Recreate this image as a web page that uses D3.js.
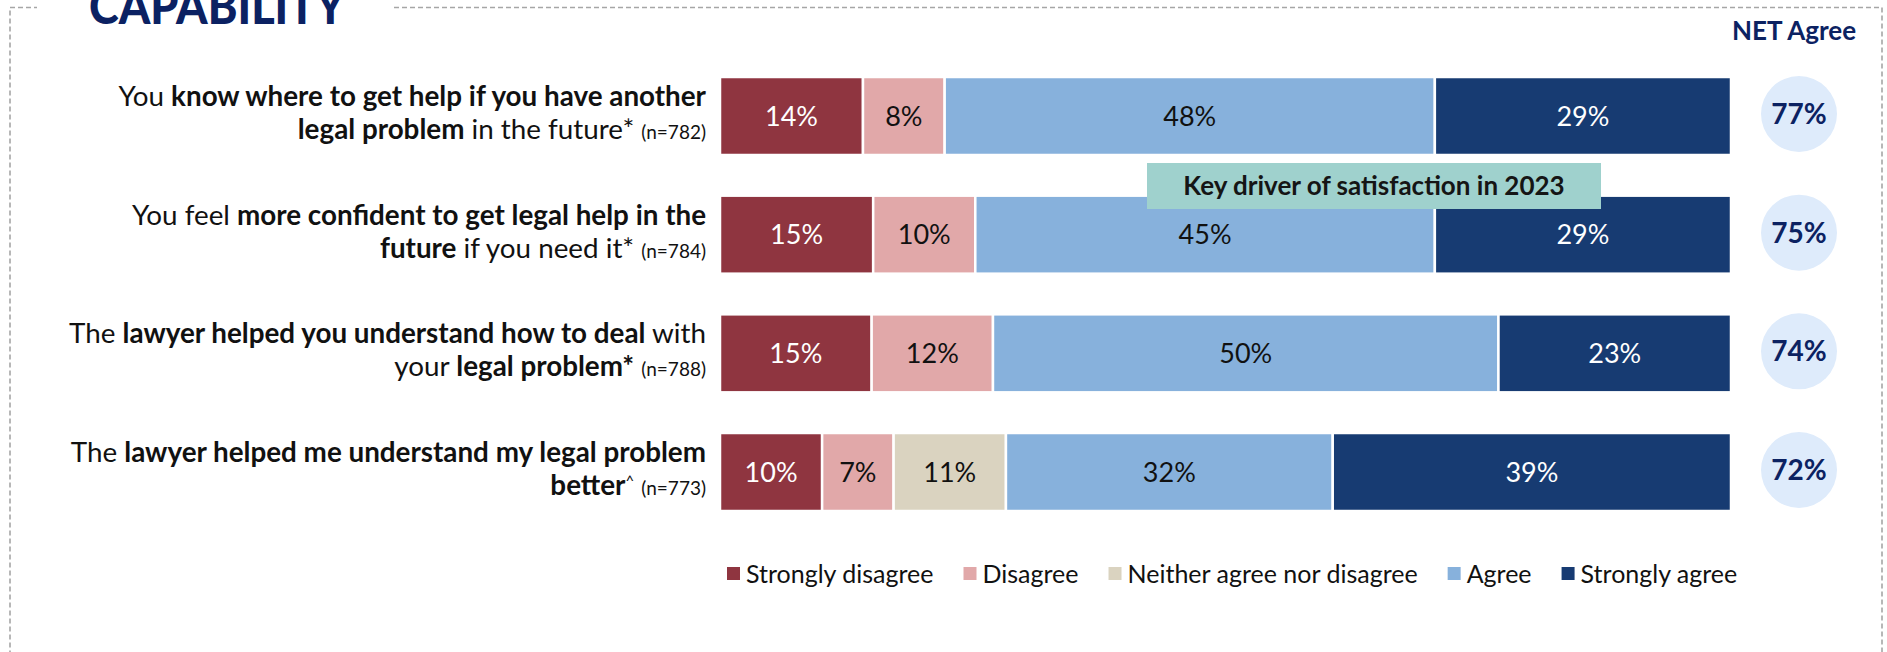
<!DOCTYPE html>
<html>
<head>
<meta charset="utf-8">
<script src="https://cdn.jsdelivr.net/npm/d3@7"></script>
<style>
  html, body { margin: 0; padding: 0; background: #fff; }
  svg { display: block; font-family: Lato, "Open Sans", sans-serif; }
</style>
</head>
<body>
<svg id="chart" width="1887" height="652"></svg>
<script>
// ---- data ----
const categories = ["know", "confident", "deal", "understand"];
const seriesNames = ["Strongly disagree", "Disagree", "Neither agree nor disagree", "Agree", "Strongly agree"];
const stronglyDisagree = [14, 15, 15, 10];
const disagree = [8, 10, 12, 7];
const neither = [0, 0, 0, 11];
const agree = [48, 45, 50, 32];
const stronglyAgree = [29, 29, 23, 39];
const netAgree = [77, 75, 74, 72];
const sampleSizes = [782, 784, 788, 773];

// statement text, per line: [text, style] where style is "r" regular, "b" bold, "sup" superscript
const statementLines = [
  [[["You ", "r"], ["know where to get help if you have another", "b"]],
   [["legal problem", "b"], [" in the future* ", "r"]]],
  [[["You feel ", "r"], ["more confident to get legal help in the", "b"]],
   [["future", "b"], [" if you need it* ", "r"]]],
  [[["The ", "r"], ["lawyer helped you understand how to deal", "b"], [" with", "r"]],
   [["your ", "r"], ["legal problem*", "b"], [" ", "r"]]],
  [[["The ", "r"], ["lawyer helped me understand my legal problem", "b"]],
   [["better", "b"], ["^", "sup"], [" ", "r"]]]
];

const titleText = "CAPABILITY";
const netTitle = "NET Agree";
const calloutText = "Key driver of satisfaction in 2023";

// ---- styling ----
const colors = ["#8F3540", "#E1A8A9", "#DAD3C0", "#87B1DC", "#173B72"];
const lightText = [true, false, false, false, true];
const navy = "#0C2262";

const svg = d3.select("#chart");

// dashed frame with the title sitting on its top edge
svg.append("rect")
  .attr("x", 10).attr("y", 7.5)
  .attr("width", 1872).attr("height", 700)
  .attr("fill", "none")
  .attr("stroke", "#A6A6A6")
  .attr("stroke-width", 1.6)
  .attr("stroke-dasharray", "5,3");
svg.append("rect")
  .attr("x", 37).attr("y", 0)
  .attr("width", 357).attr("height", 14)
  .attr("fill", "#fff");
svg.append("text")
  .attr("x", 89).attr("y", 24)
  .attr("font-size", 50)
  .attr("font-weight", 900)
  .attr("fill", "#0B2162")
  .attr("textLength", 256)
  .attr("lengthAdjust", "spacingAndGlyphs")
  .text(titleText);

// ---- scales ----
const rows = categories.map((c, i) => ({
  category: c,
  "Strongly disagree": stronglyDisagree[i],
  "Disagree": disagree[i],
  "Neither agree nor disagree": neither[i],
  "Agree": agree[i],
  "Strongly agree": stronglyAgree[i]
}));

const y = d3.scaleBand()
  .domain(categories)
  .range([77, 511])
  .paddingInner(0.3427)
  .paddingOuter(0);

const x = d3.scaleLinear().domain([0, 1]).range([720, 1731]);

const color = d3.scaleOrdinal().domain(seriesNames).range(colors);

// 100% stacked rows
const stacked = d3.stack()
  .keys(seriesNames)
  .offset(d3.stackOffsetExpand)(rows);

const layers = svg.append("g").selectAll("g")
  .data(stacked)
  .join("g")
  .attr("fill", d => color(d.key));

const segs = layers.selectAll("g")
  .data((layer, li) => layer.map(d => ({
    key: layer.key, li, cat: d.data.category, v: d.data[layer.key], x0: d[0], x1: d[1]
  })).filter(d => d.v > 0))
  .join("g");

segs.append("rect")
  .attr("x", d => x(d.x0))
  .attr("y", d => y(d.cat))
  .attr("width", d => x(d.x1) - x(d.x0))
  .attr("height", y.bandwidth())
  .attr("stroke", "#fff")
  .attr("stroke-width", 2.5);

segs.append("text")
  .attr("x", d => (x(d.x0) + x(d.x1)) / 2)
  .attr("y", d => y(d.cat) + y.bandwidth() / 2)
  .attr("dy", "0.36em")
  .attr("text-anchor", "middle")
  .attr("font-size", 27)
  .attr("fill", d => lightText[d.li] ? "#fff" : "#111")
  .text(d => d.v + "%");

// ---- statement labels ----
const labelX = 706;
const labelG = svg.append("g");
categories.forEach((c, i) => {
  const cy = y(c) + y.bandwidth() / 2;
  statementLines[i].forEach((line, li) => {
    const t = labelG.append("text")
      .attr("x", labelX)
      .attr("y", cy - 10 + li * 33)
      .attr("text-anchor", "end")
      .attr("font-size", 27.8)
      .attr("fill", "#111");
    line.forEach(([txt, st]) => {
      const ts = t.append("tspan").text(txt);
      if (st === "b") ts.attr("font-weight", 700);
      if (st === "sup") ts.attr("font-size", 15).attr("dy", -9);
    });
    if (li === 1) {
      const hasSup = line.some(s => s[1] === "sup");
      t.append("tspan")
        .attr("font-size", 19)
        .attr("dy", hasSup ? 9 : 0)
        .text("(n=" + sampleSizes[i] + ")");
    }
  });
});

// ---- NET agree column ----
svg.append("text")
  .attr("x", 1794).attr("y", 40)
  .attr("text-anchor", "middle")
  .attr("font-size", 26)
  .attr("font-weight", 700)
  .attr("fill", navy)
  .text(netTitle);

const net = svg.append("g").selectAll("g")
  .data(categories.map((c, i) => ({ c, v: netAgree[i] })))
  .join("g")
  .attr("transform", d => `translate(1799,${y(d.c) + y.bandwidth() / 2 - 2})`);
net.append("circle").attr("r", 38).attr("fill", "#DEEBFB");
net.append("text")
  .attr("text-anchor", "middle")
  .attr("dy", "0.36em")
  .attr("font-size", 28)
  .attr("font-weight", 700)
  .attr("fill", navy)
  .text(d => d.v + "%");

// ---- callout ----
const call = svg.append("g");
call.append("rect")
  .attr("x", 1147).attr("y", 163)
  .attr("width", 454).attr("height", 46)
  .attr("fill", "#9FD1CD");
call.append("text")
  .attr("x", 1374).attr("y", 186)
  .attr("dy", "0.36em")
  .attr("text-anchor", "middle")
  .attr("font-size", 26)
  .attr("font-weight", 700)
  .attr("fill", "#151515")
  .text(calloutText);

// ---- legend ----
const legend = svg.append("g").attr("transform", "translate(727,574)");
let lx = 0;
seriesNames.forEach((name, i) => {
  const item = legend.append("g").attr("transform", `translate(${lx},0)`);
  item.append("rect")
    .attr("x", 0).attr("y", -7)
    .attr("width", 13).attr("height", 13)
    .attr("fill", colors[i]);
  const t = item.append("text")
    .attr("x", 19).attr("y", 0)
    .attr("dy", "0.36em")
    .attr("font-size", 25)
    .attr("fill", "#111")
    .text(name);
  lx += 19 + t.node().getComputedTextLength() + 30;
});
</script>
</body>
</html>
